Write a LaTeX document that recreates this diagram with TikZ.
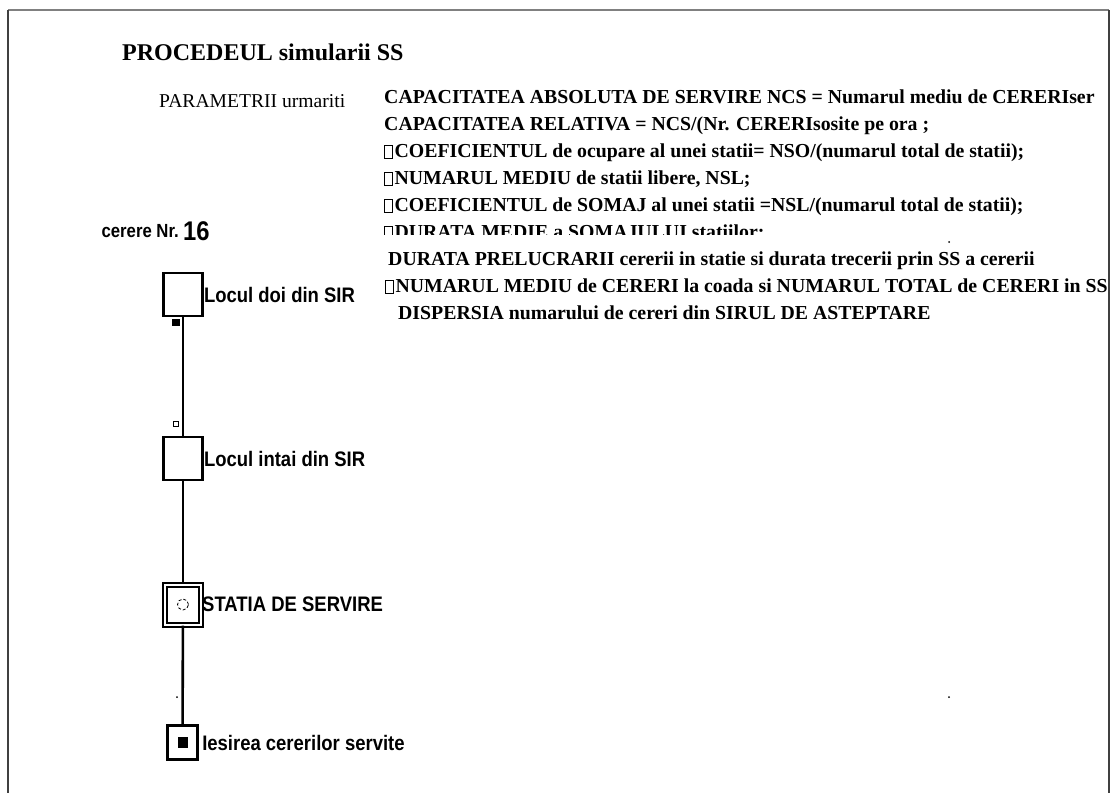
\documentclass[tikz,border=0pt]{standalone}
\usepackage{fontspec}
\setmainfont{Liberation Serif}
\newfontfamily\pixsans[FakeStretch=0.88]{Liberation Sans}
\usetikzlibrary{positioning}
\newcommand{\nobox}{{\setlength{\fboxsep}{0pt}\setlength{\fboxrule}{0.7pt}\fbox{\rule{0pt}{12pt}\hspace{7pt}}}\kern2pt}
\tikzset{place/.style = {draw, line width=2.6pt, minimum width=39pt, minimum height=43pt, inner sep=0pt}}
\tikzset{station/.style = {draw, double, double distance=2pt, line width=2pt, minimum width=36pt, minimum height=40pt, inner sep=0pt}}
\tikzset{exitbox/.style = {draw, line width=2.6pt, minimum width=30.5pt, minimum height=34.5pt, inner sep=0pt}}
\tikzset{circ/.style = {fill, inner sep=0pt, minimum size=#1}}
\tikzset{lbl/.style = {inner sep=0pt, font=\pixsans\bfseries\fontsize{21}{24}\selectfont}}
\tikzset{param/.style = {anchor=base west, inner sep=0pt, font=\bfseries\fontsize{19.8}{24}\selectfont}}
\tikzset{every picture/.style={x=1pt, y=-1pt}}

\begin{document}
\begin{tikzpicture}
  \useasboundingbox (0,0) rectangle (1114,793);
  % frame
  \draw[gray, line width=2pt] (8,10) -- (1109,10);
  \draw[darkgray, line width=2pt] (8,10) -- (8,793);
  \draw[darkgray, line width=2pt] (1109,10) -- (1109,793);

  \node[anchor=base west, inner sep=0pt, font=\bfseries\fontsize{24}{28}\selectfont] (title) at (122,60) {PROCEDEUL simularii SS};
  \node[anchor=base west, inner sep=0pt, font=\fontsize{19.6}{22}\selectfont] (params) at (159,107) {PARAMETRII urmariti};

  \begin{scope}
    \clip (0,0) rectangle (1108,793);
    \node[param] (p1) at (384,103.5) {CAPACITATEA ABSOLUTA DE SERVIRE NCS = Numarul mediu de CERERIser};
    \node[param] (p2) at (384,130.5) {CAPACITATEA RELATIVA = NCS/(Nr. CERERIsosite pe ora ;};
    \node[param] (p3) at (384,157.5) {\nobox COEFICIENTUL de ocupare al unei statii= NSO/(numarul total de statii);};
    \node[param] (p4) at (384,184.5) {\nobox NUMARUL MEDIU de statii libere, NSL;};
    \node[param] (p5) at (384,211.5) {\nobox COEFICIENTUL de SOMAJ al unei statii =NSL/(numarul total de statii);};
    \node[param] (p6) at (384,238.5) {\nobox DURATA MEDIE a SOMAJULUI statiilor;};
    \fill[white] (380,234.5) rectangle (1000,246);
    \node[param] (p7) at (388,265.5) {DURATA PRELUCRARII cererii in statie si durata trecerii prin SS a cererii};
    \node[param] (p8) at (385,292.5) {\nobox NUMARUL MEDIU de CERERI la coada si NUMARUL TOTAL de CERERI in SS};
    \node[param] (p9) at (398,319.5) {DISPERSIA numarului de cereri din SIRUL DE ASTEPTARE};
  \end{scope}

  \node[anchor=base east, inner sep=0pt, font=\pixsans\bfseries\fontsize{19}{22}\selectfont] (cer) at (179,237) {cerere Nr.};
  \node[anchor=base west, inner sep=0pt, font=\pixsans\bfseries\fontsize{27}{30}\selectfont] (nr) at (183,240) {16};

  \node[place] (loc2) at (183,294.5) {};
  \node[place] (loc1) at (183,458.5) {};
  \node[station] (stat) at (183,604.5) {};
  \node[exitbox] (exit) at (182.5,742.5) {};

  \draw[line width=2.6pt] (loc2) -- (loc1);
  \draw[line width=2.6pt] (loc1) -- (stat);
  \draw[line width=2.6pt] (stat) -- (exit);

  \node[circ=7.5pt] (tok) at (176,322.5) {};
  \node[draw, line width=1pt, inner sep=0pt, minimum size=5pt] (free) at (176,423.5) {};
  \draw[densely dashed, line width=0.8pt] (stat.center) circle (5.5pt);
  \node[fill, inner sep=0pt, minimum width=10pt, minimum height=11pt] (out) at (exit.center) {};

  \node[lbl, right=0pt of loc2] (l2) {Locul doi din SIR};
  \node[lbl, right=0pt of loc1] (l1) {Locul intai din SIR};
  \node[lbl, right=0pt of stat] (ls) {STATIA DE SERVIRE};
  \node[lbl, right=3pt of exit] (le) {Iesirea cererilor servite};

  \fill (177,697) circle (1pt);
  \fill (949,697) circle (1pt);
  \fill (949,242) circle (1pt);
\end{tikzpicture}
\end{document}
